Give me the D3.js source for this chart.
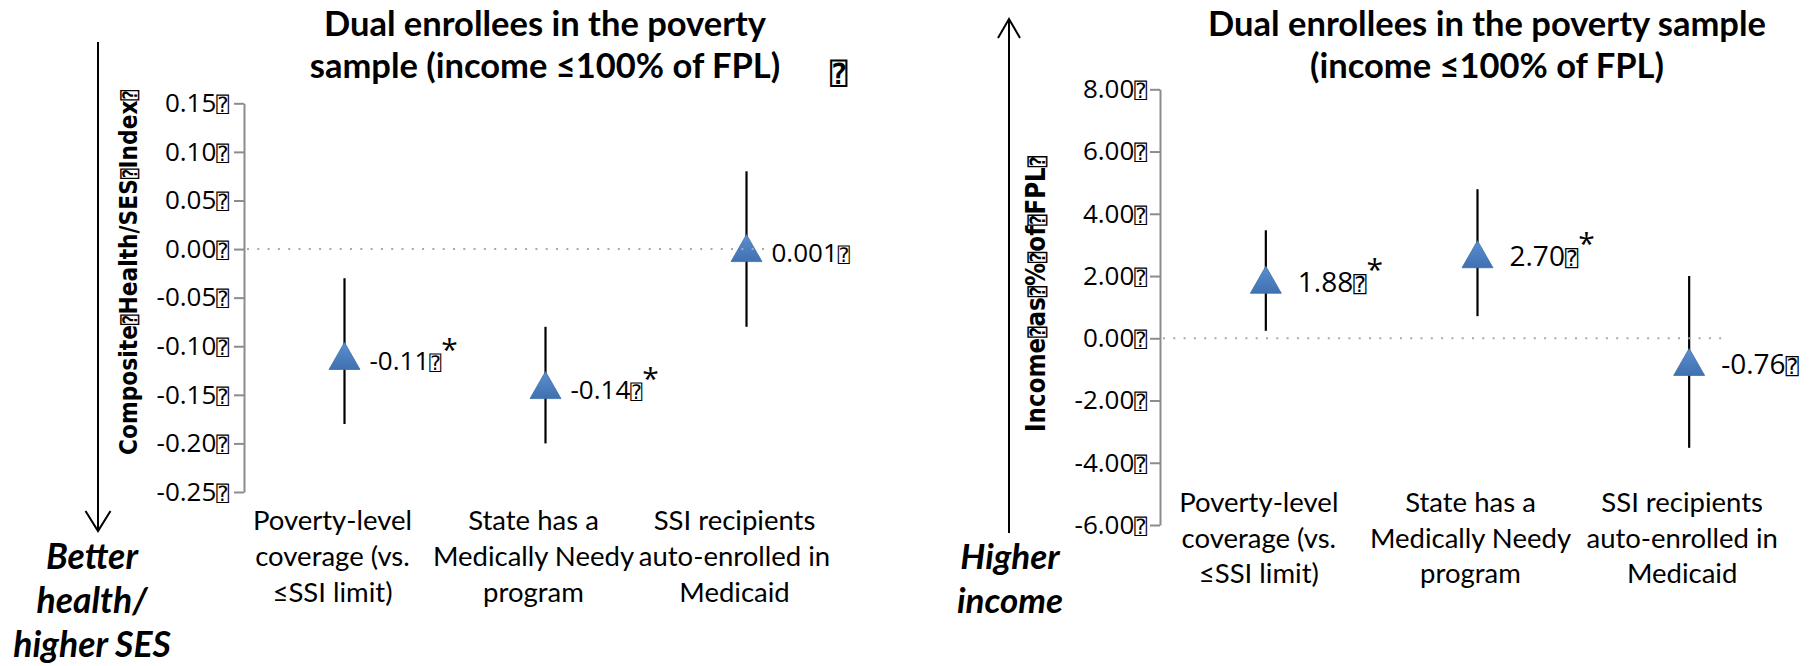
<!DOCTYPE html>
<html>
<head>
<meta charset="utf-8">
<script src="https://cdn.jsdelivr.net/npm/d3@7"></script>
<style>
  html, body { margin: 0; padding: 0; background: #fff; }
  svg { display: block; }
</style>
</head>
<body>
<svg id="chart" width="1817" height="666"></svg>
<script>
// Category labels, one array of wrapped lines per category (shared by both panels)
const categoryLines = [
  ["Poverty-level", "coverage (vs.", "\u2264SSI limit)"],
  ["State has a", "Medically Needy", "program"],
  ["SSI recipients", "auto-enrolled in", "Medicaid"]
];

// Panel 1: composite health / SES index
const healthTitle = ["Dual enrollees in the poverty", "sample (income \u2264100% of FPL)"];
const healthEstimate = [-0.11, -0.14, 0.001];
const healthLow = [-0.18, -0.20, -0.08];
const healthHigh = [-0.03, -0.08, 0.08];
const healthSignificant = [true, true, false];
const healthTicks = [0.15, 0.10, 0.05, 0.00, -0.05, -0.10, -0.15, -0.20, -0.25];
const healthAxisWords = ["Composite", "Health/SES", "Index"];
const healthDirection = ["Better", "health/", "higher SES"];

// Panel 2: income as % of FPL
const incomeTitle = ["Dual enrollees in the poverty sample", "(income \u2264100% of FPL)"];
const incomeEstimate = [1.88, 2.70, -0.76];
const incomeLow = [0.24, 0.71, -3.52];
const incomeHigh = [3.47, 4.79, 2.00];
const incomeSignificant = [true, true, false];
const incomeTicks = [8, 6, 4, 2, 0, -2, -4, -6];
const incomeAxisWords = ["Income", "as", "%", "of", "FPL"];
const incomeDirection = ["Higher", "income"];

// placeholder glyph that the source text carries after numbers and words
const BOX = "\u2370";
const BOXFONT = "'DejaVu Sans Mono', 'DejaVu Sans', monospace";

const svg = d3.select("#chart");

const CAL = "Lato, 'Open Sans', sans-serif";
const NUM = "'Open Sans', 'Noto Sans', sans-serif";
const VER = "'DejaVu Sans', Verdana, sans-serif";

const loc = d3.formatLocale({ decimal: ".", thousands: ",", grouping: [3], currency: ["$", ""], minus: "-" });
const f2 = loc.format(".2f");
const f3 = loc.format(".3f");

function rows(est, lo, hi, sig) {
  return est.map((v, i) => ({ i, v, lo: lo[i], hi: hi[i], sig: sig[i] }));
}

function appendBox(sel, size, weight) {
  return sel.append("tspan")
    .style("font-family", BOXFONT)
    .style("font-size", size + "px")
    .style("font-weight", weight || "normal")
    .text(BOX);
}

function drawPanel(cfg) {
  const g = svg.append("g");
  const y = d3.scaleLinear().domain([cfg.ticks[cfg.ticks.length - 1], cfg.ticks[0]])
    .range([cfg.bottom, cfg.top]);
  const x = d3.scaleBand().domain(d3.range(categoryLines.length)).range([cfg.left, cfg.right]);
  const cx = i => x(i) + x.bandwidth() / 2;

  // y axis
  const axis = d3.axisLeft(y)
    .tickValues(cfg.ticks)
    .tickSize(10)
    .tickSizeOuter(0)
    .tickPadding(cfg.tickPad)
    .tickFormat(cfg.tickFormat);
  const ax = g.append("g").attr("transform", `translate(${cfg.left},0)`).call(axis);
  ax.select(".domain").attr("stroke", "#8c8c8c").attr("stroke-width", 2);
  ax.selectAll(".tick line").attr("stroke", "#8c8c8c").attr("stroke-width", 2);
  ax.selectAll(".tick text")
    .attr("fill", "#000")
    .style("font-family", NUM)
    .style("font-size", cfg.tickSize + "px")
    .each(function (d) {
      const t = d3.select(this).text("");
      t.append("tspan").text(cfg.tickFormat(d));
      appendBox(t, 21);
    });

  // axis title, squeezed along its run to the available length
  const at = g.append("text")
    .attr("transform", `translate(${cfg.titleX},${cfg.titleY}) rotate(-90)`)
    .attr("text-anchor", "start")
    .attr("textLength", cfg.axisTitleLength)
    .attr("lengthAdjust", "spacingAndGlyphs")
    .style("font-family", VER)
    .style("font-weight", "bold")
    .style("font-size", cfg.axisTitleSize + "px");
  cfg.axisWords.forEach(w => {
    at.append("tspan").text(w);
    appendBox(at, cfg.axisTitleSize - 5, "bold");
  });

  const data = rows(cfg.est, cfg.lo, cfg.hi, cfg.sig);

  // confidence intervals
  g.selectAll("line.ci").data(data).join("line")
    .attr("class", "ci")
    .attr("x1", d => cx(d.i)).attr("x2", d => cx(d.i))
    .attr("y1", d => y(d.hi)).attr("y2", d => y(d.lo))
    .attr("stroke", "#000").attr("stroke-width", 2.2);

  // triangle markers centred on the estimate
  const tw = 31, th = 27;
  const tri = `M0,${-th / 2}L${tw / 2},${th / 2}L${-tw / 2},${th / 2}Z`;
  g.selectAll("path.mk").data(data).join("path")
    .attr("class", "mk")
    .attr("d", tri)
    .attr("transform", d => `translate(${cx(d.i)},${y(d.v)})`)
    .attr("fill", "url(#triFill)")
    .attr("stroke", "#3f6ea8").attr("stroke-width", 0.8);

  // dotted zero reference
  g.append("line")
    .attr("x1", cfg.left + 3).attr("x2", cx(data.length - 1) + 32)
    .attr("y1", y(0)).attr("y2", y(0))
    .attr("stroke", "#a9a9a9").attr("stroke-width", 2)
    .attr("stroke-dasharray", "2 8.3");

  // value labels, with a raised asterisk for significant estimates
  const lab = g.selectAll("text.val").data(data).join("text")
    .attr("class", "val")
    .attr("x", d => cx(d.i) + cfg.labelDx)
    .attr("y", d => y(d.v) + cfg.labelDy)
    .style("font-family", NUM)
    .style("font-size", cfg.labelSize + "px");
  lab.append("tspan").text(d => cfg.labelFormat(d.v));
  lab.each(function () { appendBox(d3.select(this), cfg.labelSize - 6); });
  lab.filter(d => d.sig).append("tspan")
    .attr("dx", 0).attr("dy", cfg.starDy)
    .style("font-size", "30px")
    .text("*");

  // category labels
  const cl = g.selectAll("text.cat").data(categoryLines).join("text")
    .attr("class", "cat")
    .attr("text-anchor", "middle")
    .style("font-family", CAL)
    .style("font-size", cfg.catSize + "px");
  cl.selectAll("tspan").data((d, i) => d.map(t => ({ t, i }))).join("tspan")
    .attr("x", d => cx(d.i) + cfg.catDx)
    .attr("y", (d, k) => cfg.catY + k * cfg.catStep)
    .text(d => d.t);

  // chart title
  g.append("text")
    .style("font-family", CAL)
    .style("font-weight", "bold")
    .style("font-size", "34.5px")
    .attr("text-anchor", "middle")
    .selectAll("tspan").data(cfg.title).join("tspan")
    .attr("x", cfg.titleCx)
    .attr("y", (d, k) => 35.5 + k * 42)
    .text(d => d);

  // direction arrow with open head
  const a = cfg.arrow;
  const dir = a.y2 > a.y1 ? 1 : -1;
  g.append("line")
    .attr("x1", a.x).attr("x2", a.x).attr("y1", a.y1).attr("y2", a.y2)
    .attr("stroke", "#000").attr("stroke-width", 2);
  g.append("path")
    .attr("d", `M${a.x - a.hw},${a.y2 - dir * a.hh}L${a.x},${a.y2}L${a.x + a.hw},${a.y2 - dir * a.hh}`)
    .attr("fill", "none").attr("stroke", "#000").attr("stroke-width", 2);

  // direction caption
  g.append("text")
    .attr("text-anchor", "middle")
    .style("font-family", CAL)
    .style("font-weight", "bold")
    .style("font-style", "italic")
    .style("font-size", cfg.dirSize + "px")
    .selectAll("tspan").data(cfg.direction).join("tspan")
    .attr("x", cfg.dirX)
    .attr("y", (d, k) => 569 + k * 44)
    .text(d => d);

  return g;
}

// gradient fill for the markers
const defs = svg.append("defs");
const lg = defs.append("linearGradient").attr("id", "triFill")
  .attr("x1", 0).attr("y1", 0).attr("x2", 0).attr("y2", 1);
lg.append("stop").attr("offset", "0%").attr("stop-color", "#5b8fd0");
lg.append("stop").attr("offset", "100%").attr("stop-color", "#3f71b0");

const left = drawPanel({
  ticks: healthTicks, top: 103.3, bottom: 492, left: 244, right: 847,
  tickPad: 5, tickSize: 26, tickFormat: f2,
  axisWords: healthAxisWords, axisTitleSize: 25, axisTitleLength: 365, titleX: 137, titleY: 455,
  est: healthEstimate, lo: healthLow, hi: healthHigh, sig: healthSignificant,
  labelDx: 25, labelDy: 14, labelSize: 26, starDy: -10,
  labelFormat: v => Math.abs(v) < 0.01 ? f3(v) : f2(v),
  catSize: 27.5, catDx: -12, catY: 530, catStep: 36,
  title: healthTitle, titleCx: 545,
  arrow: { x: 98, y1: 42, y2: 531, hw: 12.5, hh: 20 },
  direction: healthDirection, dirX: 92, dirSize: 35.5
});

// stray marker that trails the first title
left.append("text")
  .attr("x", 830).attr("y", 84)
  .style("font-family", BOXFONT)
  .style("font-weight", "bold")
  .style("font-size", "29px")
  .text(BOX);

drawPanel({
  ticks: incomeTicks, top: 89.3, bottom: 525, left: 1160, right: 1795,
  tickPad: 3, tickSize: 26, tickFormat: f2,
  axisWords: incomeAxisWords, axisTitleSize: 26, axisTitleLength: 276, titleX: 1045, titleY: 432,
  est: incomeEstimate, lo: incomeLow, hi: incomeHigh, sig: incomeSignificant,
  labelDx: 32, labelDy: 12, labelSize: 28, starDy: -12,
  labelFormat: f2,
  catSize: 27.5, catDx: -7, catY: 512, catStep: 35.7,
  title: incomeTitle, titleCx: 1487,
  arrow: { x: 1009, y1: 533, y2: 19, hw: 11, hh: 19 },
  direction: incomeDirection, dirX: 1010, dirSize: 35
});
</script>
</body>
</html>
